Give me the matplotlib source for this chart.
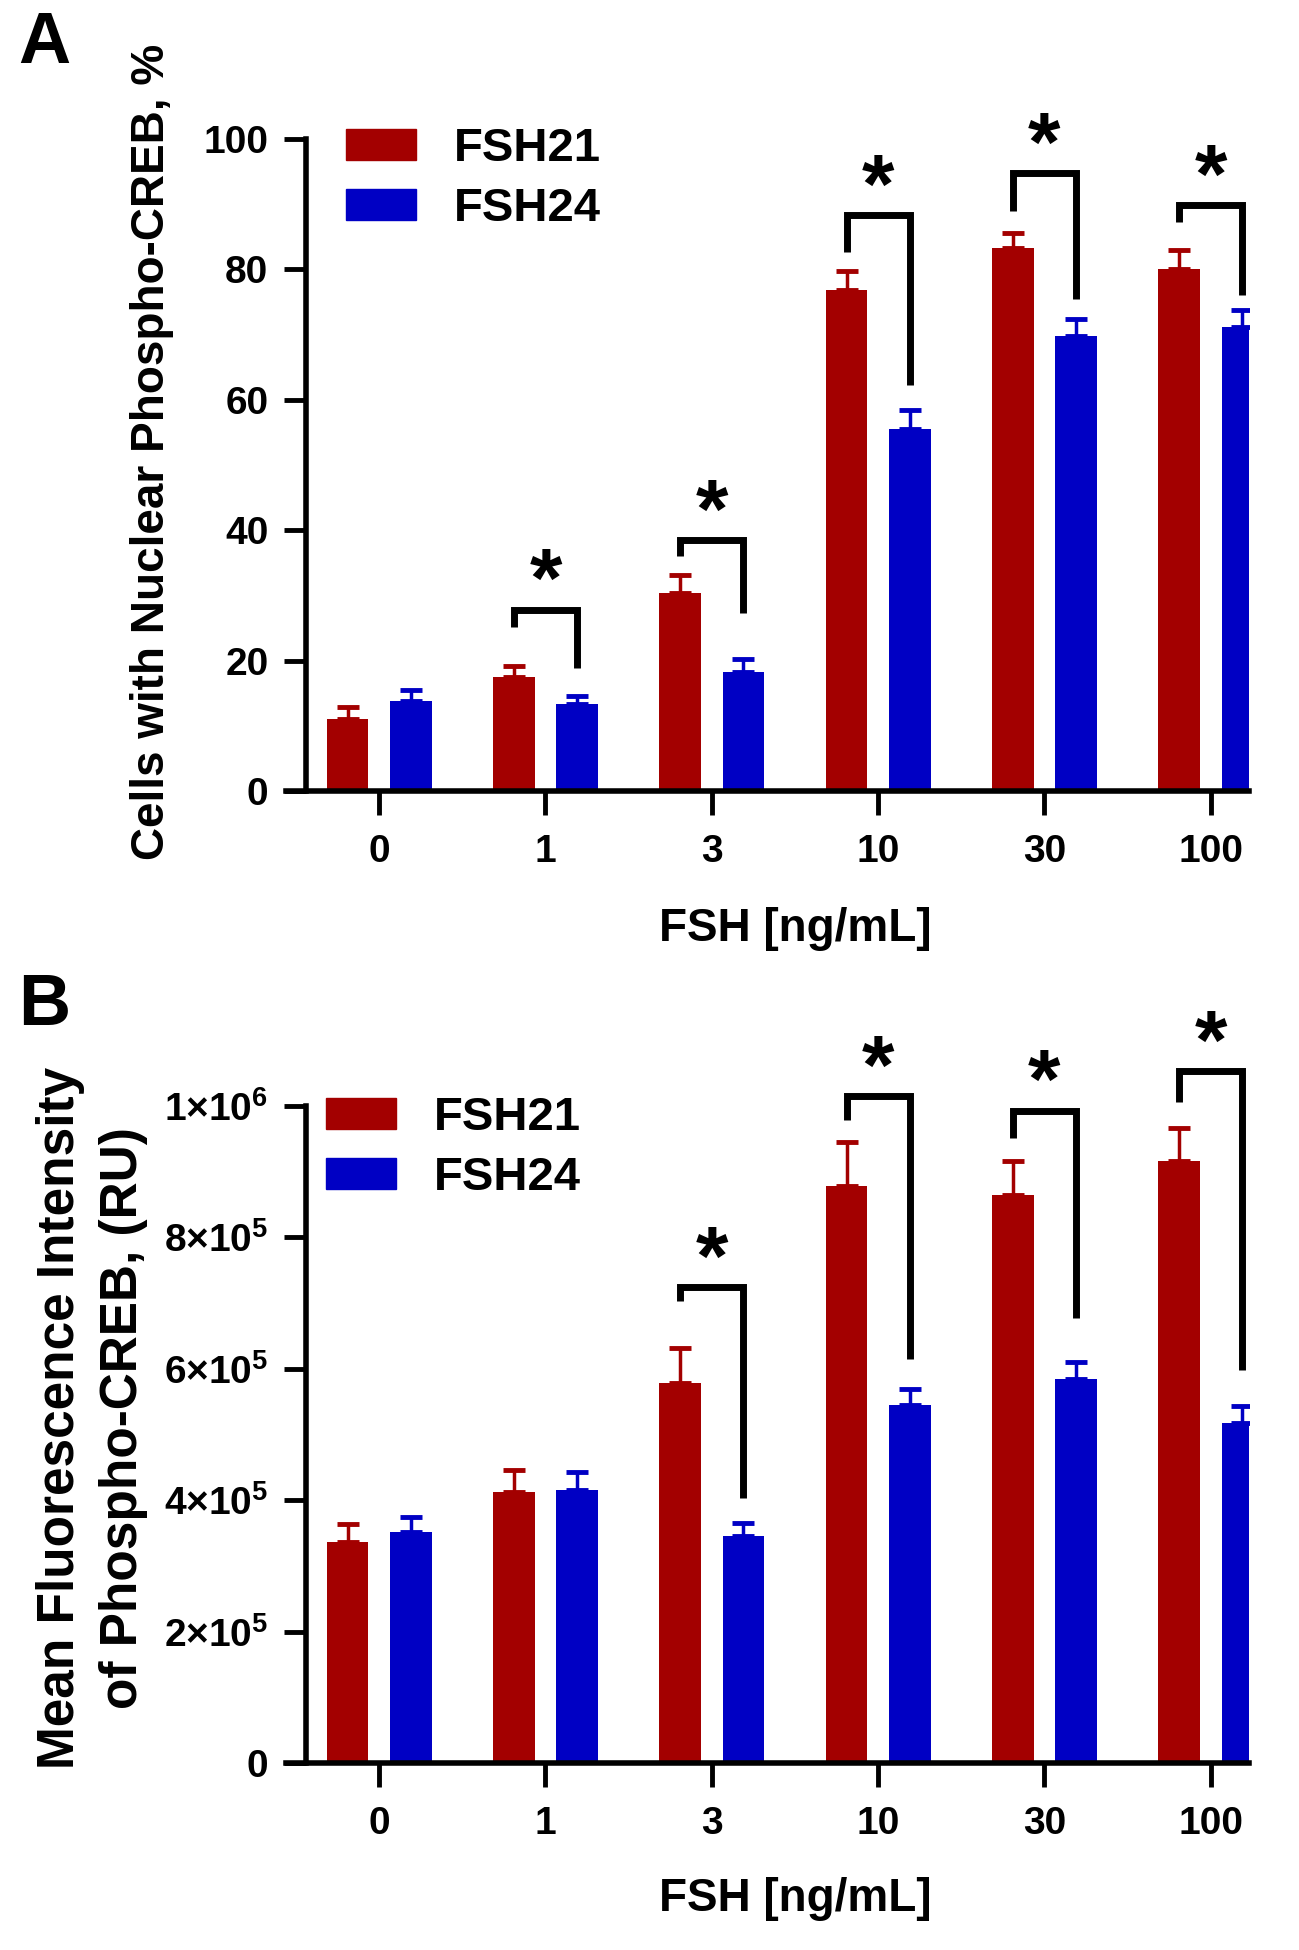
# %%
# Imports
import matplotlib

matplotlib.use("Agg")
import matplotlib.pyplot as plt
import numpy as np
from matplotlib.patches import Patch

# %%
# Datos

dosis = ["0", "1", "3", "10", "30", "100"]
series = ["FSH21", "FSH24"]
color_rojo = "#A30000"
color_azul = "#0000C4"

# Panel A: % celulas con Phospho-CREB nuclear
fsh21_a = [11.0, 17.5, 30.4, 76.8, 83.3, 80.0]
fsh21_a_err = [1.9, 1.6, 2.7, 2.9, 2.3, 2.9]
fsh24_a = [13.8, 13.3, 18.2, 55.5, 69.7, 71.1]
fsh24_a_err = [1.7, 1.2, 2.0, 2.9, 2.6, 2.7]

# corchetes: indice de dosis, altura, fin pierna izquierda, fin pierna derecha
corchete_a_idx = [1, 2, 3, 4, 5]
corchete_a_top = [27.8, 38.5, 88.3, 94.7, 89.8]
corchete_a_izq = [25.1, 36.0, 82.7, 89.0, 87.3]
corchete_a_der = [18.9, 27.3, 62.2, 75.5, 76.0]

# Panel B: intensidad media de fluorescencia
fsh21_b = [3.36e5, 4.12e5, 5.78e5, 8.78e5, 8.64e5, 9.17e5]
fsh21_b_err = [0.28e5, 0.34e5, 0.53e5, 0.68e5, 0.52e5, 0.49e5]
fsh24_b = [3.52e5, 4.15e5, 3.46e5, 5.45e5, 5.85e5, 5.17e5]
fsh24_b_err = [0.23e5, 0.28e5, 0.19e5, 0.24e5, 0.26e5, 0.26e5]

corchete_b_idx = [2, 3, 4, 5]
corchete_b_top = [7.24e5, 1.015e6, 9.93e5, 1.053e6]
corchete_b_izq = [7.03e5, 9.78e5, 9.52e5, 1.006e6]
corchete_b_der = [4.03e5, 6.15e5, 6.77e5, 5.98e5]

ticks_a = [0, 20, 40, 60, 80, 100]
ticks_b = [0, 2e5, 4e5, 6e5, 8e5, 1e6]
etiquetas_b = [
    "0",
    r"$\mathbf{2{\times}10^{5}}$",
    r"$\mathbf{4{\times}10^{5}}$",
    r"$\mathbf{6{\times}10^{5}}$",
    r"$\mathbf{8{\times}10^{5}}$",
    r"$\mathbf{1{\times}10^{6}}$",
]

# %%
# Estilo

plt.rcParams["font.family"] = ["Liberation Sans", "DejaVu Sans"]
plt.rcParams["font.weight"] = "bold"
plt.rcParams["mathtext.fontset"] = "custom"
plt.rcParams["mathtext.bf"] = "Liberation Sans:bold"
plt.rcParams["mathtext.rm"] = "Liberation Sans:bold"

ancho = 0.25
desp = 0.19
x = np.arange(len(dosis))


def dibujar_panel(ax, rojo, rojo_err, azul, azul_err, c_idx, c_top, c_izq, c_der, ymax):
    ax.bar(x - desp, rojo, width=ancho, color=color_rojo)
    ax.bar(x + desp, azul, width=ancho, color=color_azul)
    ax.errorbar(x - desp, rojo, yerr=[np.zeros(len(rojo)), rojo_err], fmt="none",
                ecolor=color_rojo, elinewidth=2.5, capsize=8, capthick=3.5)
    ax.errorbar(x + desp, azul, yerr=[np.zeros(len(azul)), azul_err], fmt="none",
                ecolor=color_azul, elinewidth=2.5, capsize=8, capthick=3.5)

    for i, top, yl, yr in zip(c_idx, c_top, c_izq, c_der):
        xl = i - desp
        xr = i + desp
        ax.plot([xl, xl, xr, xr], [yl, top, top, yr], color="black", lw=5,
                solid_joinstyle="miter", solid_capstyle="butt", clip_on=False)
        ax.annotate("*", xy=((xl + xr) / 2, top), xytext=(0, 17.5),
                    textcoords="offset points", ha="center", va="center",
                    fontsize=60, fontweight="bold", annotation_clip=False)

    ax.set_xlim(-0.56, 5.23)
    ax.set_ylim(0, ymax)
    for s in ["top", "right"]:
        ax.spines[s].set_visible(False)
    ax.spines["left"].set_position(("data", -0.44))
    ax.spines["left"].set_bounds(0, ymax)
    ax.spines["left"].set_linewidth(4)
    ax.spines["bottom"].set_linewidth(4)
    ax.set_xticks(x)
    ax.set_xticklabels(dosis)
    ax.tick_params(axis="x", direction="out", length=17, width=3.5, pad=14, labelsize=28)
    ax.tick_params(axis="y", direction="out", length=16, width=3.5, pad=11, labelsize=28)
    ax.set_xlabel("FSH [ng/mL]", fontsize=33, fontweight="bold")


# %%
# Figura

fig = plt.figure(figsize=(12.99, 19.5), dpi=100)

ax_a = fig.add_axes([0.2202, 0.5944, 0.7413, 0.3344])
dibujar_panel(ax_a, fsh21_a, fsh21_a_err, fsh24_a, fsh24_a_err,
              corchete_a_idx, corchete_a_top, corchete_a_izq, corchete_a_der, 100)
ax_a.set_yticks(ticks_a)
ax_a.xaxis.set_label_coords(0.529, -0.178)

ax_b = fig.add_axes([0.2202, 0.0959, 0.7413, 0.3369])
dibujar_panel(ax_b, fsh21_b, fsh21_b_err, fsh24_b, fsh24_b_err,
              corchete_b_idx, corchete_b_top, corchete_b_izq, corchete_b_der, 1e6)
ax_b.set_yticks(ticks_b)
ax_b.set_yticklabels(etiquetas_b)
ax_b.xaxis.set_label_coords(0.529, -0.173)

# Leyendas
handles = [Patch(color=color_rojo), Patch(color=color_azul)]
for ax, anchor in [(ax_a, (0.062, 1.018)), (ax_b, (0.0415, 1.015))]:
    ax.legend(handles, series, loc="upper left", bbox_to_anchor=anchor, frameon=False,
              fontsize=34, handlelength=1.49, handleheight=0.62, handletextpad=0.8,
              labelspacing=0.34, borderpad=0, borderaxespad=0)

# Etiquetas de ejes y letras de panel
fig.text(152 / 1299, 1 - 452 / 1950, "Cells with Nuclear Phospho-CREB, %", rotation=90,
         ha="center", va="center", fontsize=33, fontweight="bold")
fig.text(92 / 1299, 1 - 1418 / 1950, "Mean Fluorescence Intensity\nof Phospho-CREB, (RU)",
         rotation=90, ha="center", va="center", fontsize=37, fontweight="bold",
         linespacing=1.35, multialignment="center")
fig.text(44 / 1299, 1 - 44 / 1950, "A", ha="center", va="center", fontsize=52, fontweight="bold")
fig.text(44 / 1299, 1 - 1006 / 1950, "B", ha="center", va="center", fontsize=52, fontweight="bold")

fig.savefig("out.png", dpi=100)
plt.close(fig)
